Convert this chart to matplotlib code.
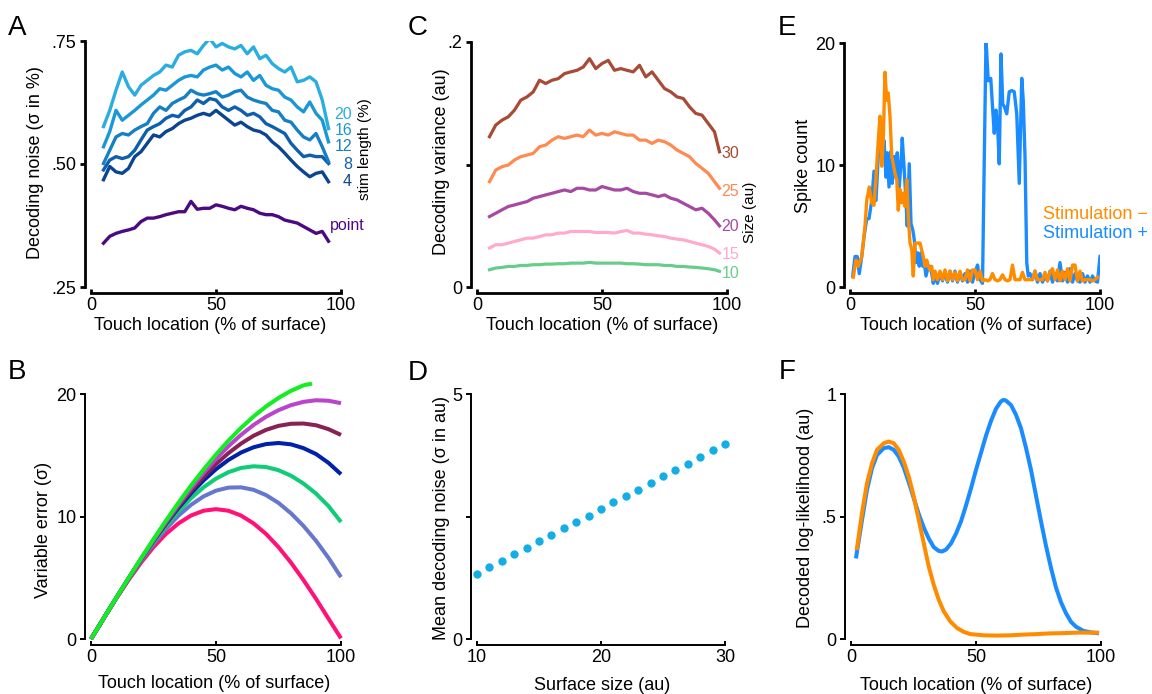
import numpy as np
import matplotlib
matplotlib.use("Agg")
import matplotlib.pyplot as plt

plt.rcParams['font.family'] = ['Liberation Sans', 'DejaVu Sans']

W, H = 1152, 694

# ---------------- data ----------------
# A: decoding noise vs touch location, per stimulus length
xa = np.linspace(5, 95, 37)
a_20 = [.576, .609, .650, .687, .657, .640, .660, .670, .680, .687, .701, .697, .721,
        .728, .731, .724, .741, .755, .738, .745, .738, .734, .741, .724, .738, .714,
        .721, .704, .694, .687, .697, .667, .670, .677, .667, .630, .572]
a_16 = [.535, .566, .609, .589, .599, .609, .620, .630, .640, .653, .650, .660, .670,
        .677, .680, .677, .691, .697, .701, .691, .697, .684, .677, .687, .670, .680,
        .660, .653, .650, .636, .630, .616, .606, .626, .603, .589, .545]
a_12 = [.501, .528, .555, .562, .559, .569, .576, .582, .603, .616, .609, .623, .630,
        .636, .650, .643, .640, .643, .647, .636, .640, .647, .650, .636, .630, .626,
        .623, .609, .606, .589, .585, .569, .555, .549, .562, .535, .505]
a_8 = [.488, .508, .515, .511, .515, .528, .549, .569, .576, .582, .593, .599, .596,
       .609, .616, .630, .623, .633, .630, .616, .609, .616, .609, .599, .603, .596,
       .582, .576, .569, .562, .542, .528, .515, .518, .515, .515, .501]
a_4 = [.468, .495, .484, .481, .491, .515, .525, .542, .559, .555, .566, .572, .582,
       .589, .593, .599, .603, .599, .609, .599, .589, .579, .585, .576, .569, .566,
       .559, .545, .535, .522, .508, .495, .484, .474, .481, .484, .464]
a_point = [.339, .353, .359, .363, .366, .370, .383, .390, .390, .393, .397, .400, .403,
           .403, .424, .408, .410, .410, .417, .414, .410, .407, .414, .410, .407, .400,
           .397, .397, .393, .386, .383, .380, .373, .366, .359, .363, .343]
a_labels = ['20', '16', '12', '8', '4']
a_label_y = [.600, .568, .535, .499, .464]

# B: variable error vs touch location (7 curves)
xb = [0, 5, 10, 15, 20, 25, 30, 35, 40, 45, 50, 55, 60, 65, 70, 75, 80, 85, 90, 95, 100]
b_pink = [0, 1.66, 3.28, 4.81, 6.23, 7.50, 8.58, 9.44, 10.08, 10.47, 10.6, 10.47, 10.08,
          9.44, 8.58, 7.50, 6.23, 4.81, 3.28, 1.66, 0.05]
b_slate = [0, 1.67, 3.32, 4.90, 6.39, 7.77, 9.00, 10.07, 10.95, 11.64, 12.11, 12.36, 12.38,
           12.18, 11.75, 11.11, 10.26, 9.23, 8.02, 6.62, 5.05]
b_teal = [0, 1.67, 3.32, 4.93, 6.46, 7.90, 9.23, 10.43, 11.49, 12.38, 13.09, 13.62, 13.96,
          14.10, 14.04, 13.78, 13.33, 12.69, 11.87, 10.85, 9.55]
b_blue = [0, 1.67, 3.33, 4.94, 6.51, 8.0, 9.40, 10.71, 11.89, 12.94, 13.86, 14.62, 15.22,
          15.65, 15.91, 16.0, 15.89, 15.58, 15.10, 14.38, 13.45]
b_maroon = [0, 1.66, 3.31, 4.93, 6.50, 8.02, 9.46, 10.83, 12.09, 13.24, 14.28, 15.18, 15.95,
            16.59, 17.07, 17.40, 17.57, 17.59, 17.45, 17.13, 16.66]
b_purple = [0, 1.66, 3.31, 4.94, 6.53, 8.07, 9.56, 10.97, 12.31, 13.55, 14.70, 15.74, 16.66,
            17.47, 18.14, 18.68, 19.09, 19.36, 19.49, 19.45, 19.25]
xb_green = [0, 5, 10, 15, 20, 25, 30, 35, 40, 45, 50, 55, 60, 65, 70, 75, 80, 85, 88.4]
b_green = [0, 1.67, 3.33, 4.97, 6.58, 8.15, 9.67, 11.13, 12.52, 13.83, 15.06, 16.20, 17.23,
           18.16, 18.98, 19.68, 20.26, 20.71, 20.85]

# C: decoding variance vs touch location, per surface size
xc = list(np.linspace(5, 95, 37)) + [97]
c_30 = [.1227, .1322, .1362, .1389, .1444, .1525, .1552, .1593, .1688, .1661, .1688, .1701,
        .1742, .1756, .1769, .1796, .1864, .1783, .1824, .1850, .1769, .1783, .1769, .1756,
        .1810, .1715, .1756, .1688, .1620, .1593, .1552, .1539, .1471, .1417, .1403, .1335,
        .1267, .1104]
c_25 = [.0860, .0955, .0982, .0996, .1037, .1064, .1077, .1091, .1145, .1159, .1199, .1227,
        .1213, .1227, .1240, .1227, .1281, .1240, .1254, .1240, .1267, .1254, .1240, .1240,
        .1199, .1199, .1172, .1199, .1186, .1159, .1118, .1091, .1064, .1009, .0969, .0928,
        .0860, .0806]
c_20 = [.0575, .0602, .0630, .0657, .0670, .0684, .0697, .0725, .0738, .0752, .0765, .0779,
        .0792, .0779, .0806, .0806, .0792, .0792, .0820, .0806, .0792, .0792, .0806, .0779,
        .0765, .0765, .0752, .0738, .0752, .0725, .0711, .0684, .0657, .0630, .0643, .0602,
        .0548, .0499]
c_15 = [.0318, .0345, .0345, .0358, .0372, .0385, .0399, .0399, .0412, .0426, .0426, .0440,
        .0440, .0453, .0453, .0453, .0453, .0445, .0445, .0445, .0440, .0453, .0461, .0440,
        .0440, .0431, .0426, .0418, .0412, .0399, .0391, .0385, .0372, .0358, .0345, .0331,
        .0309, .0277]
c_10 = [.0141, .0155, .0160, .0168, .0168, .0176, .0176, .0182, .0182, .0187, .0187, .0190,
        .0190, .0195, .0195, .0195, .0201, .0195, .0195, .0195, .0195, .0195, .0190, .0190,
        .0187, .0182, .0182, .0182, .0176, .0176, .0168, .0168, .0163, .0160, .0155, .0149,
        .0141, .0128]
c_labels = ['30', '25', '20', '15', '10']
c_label_y = [.1091, .0778, .0492, .0269, .0112]

# D: mean decoding noise vs surface size
d_size = [10, 11, 12, 13, 14, 15, 16, 17, 18, 19, 20, 21, 22, 23, 24, 25, 26, 27, 28, 29, 30]
d_noise = [1.33, 1.46, 1.60, 1.73, 1.86, 1.99, 2.12, 2.26, 2.39, 2.52, 2.65, 2.79, 2.91,
           3.05, 3.18, 3.32, 3.45, 3.58, 3.72, 3.85, 3.97]

# E: spike count vs touch location
e_x_minus = [1.3, 2.4, 3.3, 4.0, 4.7, 5.3, 6.0, 6.7, 7.7, 8.7, 9.6, 10.4, 11.3, 12.0, 12.7,
             13.3, 14.0, 14.7, 15.3, 16.0, 16.7, 17.3, 18.0, 18.7, 19.3, 20.0, 20.7, 21.3,
             22.0, 22.7, 23.3, 24.0, 24.7, 25.3, 26.0, 27.3, 28.0, 29.3, 30.0, 30.7, 31.3,
             32.0, 32.7, 33.3, 34, 35, 36, 37, 38, 39, 40, 41, 42, 43, 44, 45, 46, 47, 48,
             49, 50, 51, 52, 53, 54, 55, 56, 57, 58, 59, 60, 61, 62, 63, 64, 65, 66, 67, 68,
             69, 70, 71, 72, 73, 74, 75, 76, 77, 78, 79, 80, 81, 82, 83, 84, 85, 86, 87, 88,
             89, 90, 91, 92, 93, 94, 95, 96, 97, 98, 99]
e_minus = [0.8, 2.2, 1.7, 2.1, 2.5, 3.6, 5.0, 7.1, 8.2, 6.9, 6.7, 9.0, 12.0, 14.0, 9.9,
           12.0, 17.6, 15.3, 15.9, 14.0, 10.7, 10.1, 9.3, 8.8, 6.3, 8.0, 6.9, 7.7,
           6.6, 8.8, 5.8, 3.6, 3.1, 0.9, 3.6, 3.6, 3.6, 2.5, 1.7, 2.2, 1.7,
           1.4, 1.7, 0.6, 1.3, 0.6, 1.3, 0.6, 1.4, 0.5, 1.3, 0.6, 1.2, 0.5, 1.3, 0.6, 0.6,
           1.4, 0.5, 1.4, 1.4, 0.6, 1.3, 0.5, 0.6, 0.5, 0.6, 1.1, 0.6, 0.5, 0.6, 1.0, 0.6,
           0.5, 0.6, 1.8, 0.6, 0.6, 0.6, 1.2, 0.6, 0.6, 0.6, 0.6, 1.3, 0.6, 0.6, 0.6, 1.2,
           0.5, 1.2, 1.5, 0.6, 1.4, 0.5, 1.3, 0.6, 1.5, 0.5, 1.8, 1.8, 0.5, 1.3, 0.5, 0.6,
           0.6, 0.6, 0.5, 0.6, 0.8]
e_x_plus = [1.1, 2.0, 2.9, 3.7, 4.7, 5.6, 6.7, 7.6, 8.7, 9.6, 10.4, 11.3, 12.0, 13.0, 13.6,
            14.4, 14.9, 15.6, 16.3, 16.9, 17.6, 18.3, 18.9, 19.7, 20.4, 20.9, 21.6, 22.3,
            22.9, 23.7, 24.4, 25.1, 25.7, 26.4, 27.1, 27.7, 28.4, 29.1, 29.7, 30.4, 31.3,
            32.0, 32.7, 33.3, 34, 35, 36, 37, 38, 39, 40, 41, 42, 43, 44, 45, 46, 47, 48,
            49, 50, 51, 52, 53, 54.4, 55.3, 56.3, 57.1, 57.7, 58.4, 59.1, 59.7, 60.4, 61.1,
            61.7, 62.7, 63.7, 64.7, 65.7, 66.7, 67.7, 68.7, 69.3, 70.0, 70.7, 71.3, 72, 73,
            74, 75, 76, 77, 78, 79, 80, 81, 82, 83, 84, 85, 86, 87, 88, 89, 90, 91, 92, 93,
            94, 95, 96, 97, 98, 99, 100]
e_plus = [0.9, 2.5, 2.5, 1.1, 2.5, 4.1, 5.6, 5.6, 7.1, 9.5, 7.1, 10.7, 13.1, 10.4, 12.0,
          9.0, 11.0, 8.2, 11.1, 8.5, 10.7, 9.0, 11.0, 8.2, 10.1, 12.2, 9.9, 7.4,
          5.0, 10.1, 5.2, 4.7, 3.9, 2.0, 2.8, 1.7, 2.8, 1.7, 2.0, 0.9, 1.7,
          1.7, 1.1, 0.3, 0.9, 0.3, 1.1, 0.5, 1.2, 0.4, 1.3, 0.5, 1.3, 0.4, 1.2, 0.5, 1.1,
          0.4, 1.3, 0.4, 1.2, 1.8, 0.6, 0.3, 20.3, 16.9, 17.1, 14.5, 12.6, 14.5, 12.9,
          10.1, 19.1, 15.0, 14.8, 14.2, 16.0, 16.1, 16.0, 14.2, 8.5, 17.1, 15.3, 10.7,
          2.0, 0.9, 1.1, 0.6, 1.3, 0.4, 1.1, 0.4, 0.9, 0.5, 1.3, 0.4, 1.1, 0.5, 2.0, 0.5,
          1.2, 0.4, 1.5, 0.4, 1.1, 0.5, 0.4, 1.1, 0.4, 0.9, 0.4, 0.9, 0.5, 0.4, 2.5]

# F: decoded log-likelihood vs touch location
f_x_minus = [2.4, 4.4, 6.4, 8.4, 10.4, 13.1, 15.1, 17.1, 19.1, 21.1, 23.1, 25.1, 27.1, 29.1,
             31.1, 33.1, 35.1, 37.1, 39.7, 42.4, 45.1, 47.7, 53.1, 58.4, 63.7, 69.1, 74.4,
             79.7, 85.1, 90.4, 98.4]
f_minus = [.371, .514, .636, .717, .772, .799, .806, .799, .772, .724, .663, .582, .486, .391,
           .296, .221, .160, .113, .072, .045, .029, .020, .015, .014, .015, .018, .020,
           .023, .024, .026, .026]
f_x_plus = [2.1, 4.4, 6.4, 8.4, 10.4, 13.1, 15.1, 17.1, 19.1, 21.1, 23.1, 25.1, 27.1, 29.1,
            31.1, 33.1, 35.0, 36.4, 38, 40, 42, 44, 46, 48, 50, 52, 54, 56, 58, 60, 61,
            62, 64, 66, 68, 70, 72, 74, 76, 78, 80, 82, 84, 86, 88, 90, 93, 96, 98.4]
f_plus = [.337, .486, .609, .697, .751, .779, .783, .772, .745, .700, .640, .575, .510, .455,
          .410, .375, .360, .357, .365, .390, .430, .480, .545, .615, .690, .760, .830,
          .890, .940, .970, .976, .973, .955, .915, .860, .780, .690, .585, .480, .380,
          .290, .210, .150, .105, .070, .050, .033, .027, .024]

# ---------------- colours ----------------
A_COLS = ['#2aaee0', '#1a97d5', '#1680c5', '#0e5fae', '#0b4590']
A_POINT = '#4b0a82'
C_COLS = ['#a84a35', '#ff8a50', '#a748a3', '#ffaacc', '#6acc8a']
ORANGE = '#ff8c00'
BLUE = '#1a8cff'

fig = plt.figure(figsize=(W / 100, H / 100), dpi=100)


def add_ax(l, r, t, b, lw):
    ax = fig.add_axes([l / W, 1 - b / H, (r - l) / W, (b - t) / H])
    ax.patch.set_alpha(0)
    for s in ['top', 'right']:
        ax.spines[s].set_visible(False)
    ax.spines['left'].set_position(('outward', 4))
    ax.spines['bottom'].set_position(('outward', 4))
    ax.spines['left'].set_linewidth(lw)
    ax.spines['bottom'].set_linewidth(lw)
    ax.tick_params(axis='y', direction='out', length=3.4, width=lw, pad=3, labelsize=13)
    ax.tick_params(axis='x', direction='in', length=2.6, width=lw, pad=3, labelsize=13)
    return ax


def bounds(ax):
    ax.spines['left'].set_bounds(*ax.get_ylim())
    ax.spines['bottom'].set_bounds(*ax.get_xlim())


def ftext(x, y, s, **kw):
    fig.text(x / W, 1 - y / H, s, **kw)


# ---- A ----
ax = add_ax(91, 341, 41, 287, 2.0)
for ys, c in zip([a_4, a_8, a_12, a_16, a_20], A_COLS[::-1]):
    ax.plot(xa, ys, color=c, lw=2.4, solid_joinstyle='round')
ax.plot(xa, a_point, color=A_POINT, lw=2.4)
ax.set_xlim(0, 100)
ax.set_ylim(.25, .75)
ax.set_xticks([0, 50, 100])
ax.set_yticks([.25, .5, .75])
ax.set_yticklabels(['.25', '.50', '.75'])
bounds(ax)
for s, yv, c in zip(a_labels, a_label_y, A_COLS):
    ax.text(104.4, yv, s, color=c, fontsize=11.5, ha='right', va='center', clip_on=False)
ax.text(95.6, .374, 'point', color=A_POINT, fontsize=11.5, ha='left', va='center', clip_on=False)
ax.text(109.6, .531, 'stim length (%)', fontsize=11, rotation=90, ha='center',
        va='center', clip_on=False)

# ---- C ----
ax = add_ax(477, 727, 42, 287, 2.0)
for ys, c in zip([c_10, c_15, c_20, c_25, c_30], C_COLS[::-1]):
    ax.plot(xc, ys, color=c, lw=2.3)
ax.set_xlim(0, 100)
ax.set_ylim(0, .2)
ax.set_xticks([0, 50, 100])
ax.set_yticks([0, .1, .2])
ax.set_yticklabels(['0', '', '.2'])
bounds(ax)
for s, yv, c in zip(c_labels, c_label_y, C_COLS):
    ax.text(97.9, yv, s, color=c, fontsize=11.5, ha='left', va='center', clip_on=False)
ax.text(109.2, .0608, 'Size (au)', fontsize=11, rotation=90, ha='center',
        va='center', clip_on=False)

# ---- E ----
ax = add_ax(850, 1100, 43, 287, 2.0)
ax.plot(e_x_plus, e_plus, color=BLUE, lw=2.4)
ax.plot(e_x_minus, e_minus, color=ORANGE, lw=2.4)
ax.set_xlim(0, 100)
ax.set_ylim(0, 20)
ax.set_xticks([0, 50, 100])
ax.set_yticks([0, 10, 20])
bounds(ax)
ftext(1043, 214, 'Stimulation \u2212', color=ORANGE, fontsize=13, ha='left', va='center')
ftext(1043, 234, 'Stimulation +', color=BLUE, fontsize=13, ha='left', va='center')

# ---- B ----
ax = add_ax(91, 341, 394, 639, 1.4)
for ys, c in zip([b_pink, b_slate, b_teal, b_blue, b_maroon, b_purple],
                 ['#ff1177', '#6677cc', '#11cc77', '#0022aa', '#882255', '#bb44cc']):
    ax.plot(xb, ys, color=c, lw=2.9, solid_capstyle='butt', clip_on=False)
ax.plot(xb_green, b_green, color='#11ee22', lw=2.9, solid_capstyle='butt', clip_on=False)
ax.set_xlim(0, 100)
ax.set_ylim(0, 20)
ax.set_xticks([0, 50, 100])
ax.set_yticks([0, 10, 20])
bounds(ax)

# ---- D ----
ax = add_ax(477, 725, 394, 639, 1.4)
ax.plot(d_size, d_noise, 'o', color='#14aee6', ms=6, mec='none', clip_on=False)
ax.set_xlim(10, 30)
ax.set_ylim(0, 5)
ax.set_xticks([10, 20, 30])
ax.set_yticks([0, 2.5, 5])
ax.set_yticklabels(['0', '', '5'])
bounds(ax)

# ---- F ----
ax = add_ax(851, 1101, 394, 639, 1.4)
ax.plot(f_x_plus, f_plus, color=BLUE, lw=2.9, clip_on=False)
ax.plot(f_x_minus, f_minus, color=ORANGE, lw=2.9, clip_on=False)
ax.set_xlim(0, 100)
ax.set_ylim(0, 1)
ax.set_xticks([0, 50, 100])
ax.set_yticks([0, .5, 1])
ax.set_yticklabels(['0', '.5', '1'])
bounds(ax)

# ---- axis labels ----
xl = 'Touch location (% of surface)'
for (x, y, s) in [(210, 326, xl), (602, 325, xl), (976, 326, xl),
                  (214, 684, xl), (602, 685, 'Surface size (au)'), (976, 685, xl)]:
    ftext(x, y, s, fontsize=13, ha='center', va='center')
for (x, y, s) in [(36, 163, 'Decoding noise (\u03c3 in %)'),
                  (441, 162, 'Decoding variance (au)'),
                  (804, 166, 'Spike count'),
                  (43, 530, 'Variable error (\u03c3)'),
                  (442, 518, 'Mean decoding noise (\u03c3 in au)'),
                  (806, 518, 'Decoded log-likelihood (au)')]:
    ftext(x, y, s, fontsize=13, ha='center', va='center', rotation=90)

# ---- panel letters ----
for (x, y, s) in [(8, 35, 'A'), (8, 379, 'B'), (408, 35, 'C'),
                  (408, 380, 'D'), (778, 35, 'E'), (779, 379, 'F')]:
    ftext(x, y, s, fontsize=20, ha='left', va='baseline')

fig.savefig('out.png', dpi=100)
